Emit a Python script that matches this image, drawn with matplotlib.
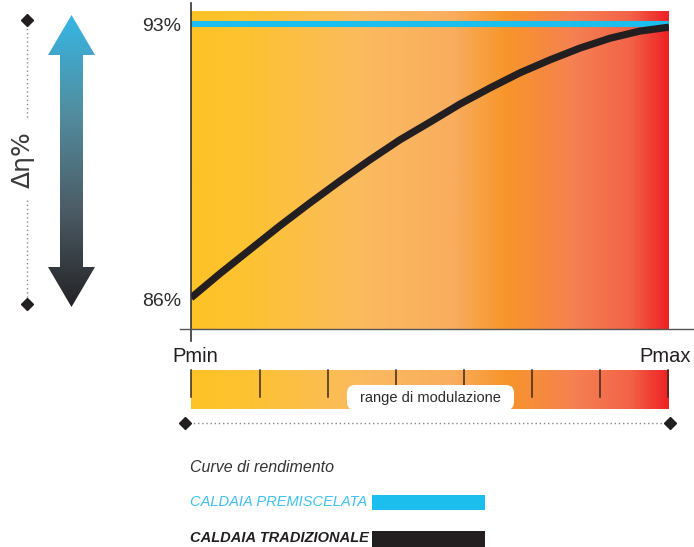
import numpy as np
import matplotlib
matplotlib.use("Agg")
import matplotlib.pyplot as plt
from matplotlib.colors import LinearSegmentedColormap
from matplotlib.patches import Polygon, FancyBboxPatch, Rectangle

# efficiency curves, x = load between Pmin (0) and Pmax (100)
load_pct = [0, 6, 12.3, 18.6, 24.9, 31.2, 37.4, 43.7, 50, 56.3, 62.6, 68.8, 75.1, 81.4, 87.7, 93.9, 100]
eff_traditional = [86.05, 86.66, 87.27, 87.88, 88.46, 89.02, 89.55, 90.06, 90.51,
                   90.97, 91.38, 91.76, 92.09, 92.39, 92.64, 92.82, 92.92]
premix_load = [0, 100]
eff_premixed = [93.0, 93.0]

ytick_vals = [86, 93]
ytick_labels = ["86%", "93%"]
x_labels = ["Pmin", "Pmax"]
n_steps = 8  # tick marks on the modulation bar

legend_title = "Curve di rendimento"
label_premixed = "CALDAIA PREMISCELATA"
label_traditional = "CALDAIA TRADIZIONALE"
range_label = "range di modulazione"

BLUE = "#1bbeec"
BLACK = "#231f20"
TEXT = "#2b2b2b"

plt.rcParams["font.family"] = ["Liberation Sans", "DejaVu Sans"]

warm = LinearSegmentedColormap.from_list("warm", [
    (0.0, "#fec325"), (0.12, "#fdc232"), (0.35, "#fbbb5e"), (0.55, "#f9ad5e"),
    (0.66, "#f7952a"), (0.80, "#f58152"), (0.92, "#f26448"), (1.0, "#ee2326")])
arrow_cmap = LinearSegmentedColormap.from_list("arr", ["#36b6e4", "#528d9f", "#4c5c66", "#242326"])

W, H = 694, 547
fig = plt.figure(figsize=(W / 100, H / 100), dpi=100)

# main chart area, pixel box 191..669 x 11..329
ymin, ymax = 85.26, 93.33
ax = fig.add_axes([191 / W, 1 - 329 / H, 478 / W, 318 / H])
grad = np.linspace(0, 1, 400).reshape(1, -1)
ax.imshow(grad, cmap=warm, extent=[0, 100, ymin, ymax], aspect="auto", zorder=0)
ax.plot(premix_load, eff_premixed, color=BLUE, lw=4.4, solid_capstyle="butt", zorder=2)
ax.plot(load_pct, eff_traditional, color=BLACK, lw=5.2, solid_capstyle="butt",
        solid_joinstyle="round", zorder=3)
ax.set_xlim(0, 100)
ax.set_ylim(ymin, ymax)
for s in ax.spines.values():
    s.set_visible(False)
ax.set_xticks([])
ax.set_yticks(ytick_vals)
ax.set_yticklabels(ytick_labels, fontsize=14, color=TEXT)
ax.tick_params(axis="y", length=0, pad=7)

# overlay in pixel coordinates for the decorations
ov = fig.add_axes([0, 0, 1, 1], facecolor="none")
ov.set_xlim(0, W)
ov.set_ylim(H, 0)
ov.axis("off")

# axis lines
ov.plot([191, 191], [3, 341], color="#333333", lw=1.2)
ov.plot([180, 694], [329, 329], color="#555555", lw=1.0)

ov.text(172, 357, x_labels[0], ha="left", va="center", fontsize=14.5, color=BLACK)
ov.text(691, 357, x_labels[1], ha="right", va="center", fontsize=14.5, color=BLACK)

# modulation bar
ov.imshow(grad, cmap=warm, extent=[191, 669, 409, 370], aspect="auto", zorder=1)
for x in np.linspace(191.5, 668.5, n_steps):
    ov.plot([x, x], [370, 397], color="#3a2a1a", lw=1.1, zorder=2)
ov.add_patch(FancyBboxPatch((347, 385), 167, 25, boxstyle="round,pad=0,rounding_size=8",
                            facecolor="white", edgecolor="none", zorder=3))
ov.text(430, 398, range_label, ha="center", va="center", fontsize=10.5, color=TEXT, zorder=4)

# dotted range line
ov.plot([185, 670], [423, 423], color="#888888", lw=1.0, ls=(0, (1, 2)))
ov.plot([185, 670], [423, 423], ls="none", marker="D", ms=6, color=BLACK)

# left delta indicator
ov.plot([27, 27], [20, 120], color="#888888", lw=1.0, ls=(0, (1, 2)))
ov.plot([27, 27], [200, 304], color="#888888", lw=1.0, ls=(0, (1, 2)))
ov.plot([27, 27], [20, 304], ls="none", marker="D", ms=6, color=BLACK)
ov.text(23, 160, "Δη%", rotation=90, ha="center", va="center", fontsize=18,
        color="#3a3a3a", family="DejaVu Sans")

arrow = Polygon([(71.5, 15), (95, 55), (83, 55), (83, 267), (95, 267), (71.5, 307),
                 (48, 267), (60, 267), (60, 55), (48, 55)], closed=True,
                facecolor="none", edgecolor="none")
ov.add_patch(arrow)
vgrad = np.linspace(0, 1, 300).reshape(-1, 1)
im = ov.imshow(vgrad, cmap=arrow_cmap, extent=[48, 95, 307, 15], aspect="auto")
im.set_clip_path(arrow)

# legend
ov.text(190, 467, legend_title, ha="left", va="center", fontsize=11.5, style="italic", color="#333333")
ov.text(190, 502, label_premixed, ha="left", va="center", fontsize=10.5, style="italic", color="#3ec1ee")
ov.add_patch(Rectangle((372, 495), 113, 15, facecolor=BLUE, edgecolor="none"))
ov.text(190, 538, label_traditional, ha="left", va="center", fontsize=10.5, style="italic",
        weight="bold", color=BLACK)
ov.add_patch(Rectangle((372, 531), 113, 16, facecolor=BLACK, edgecolor="none"))

ov.set_xlim(0, W)
ov.set_ylim(H, 0)

fig.savefig("out.png", dpi=100)
